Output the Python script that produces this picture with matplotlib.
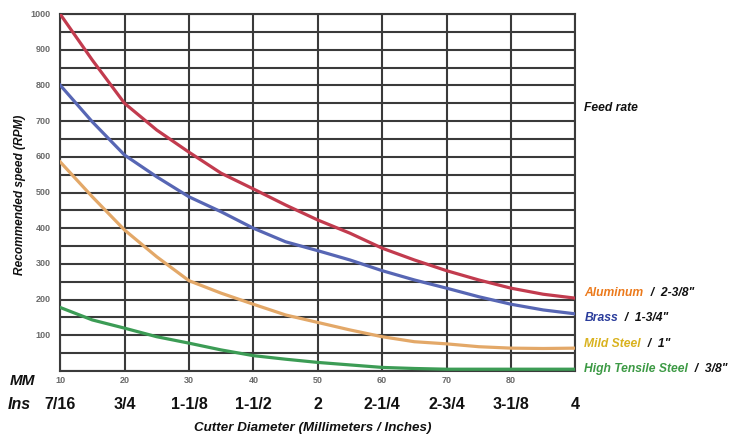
import numpy as np
import matplotlib.pyplot as plt

mm = [10, 15, 20, 25, 30, 35, 40, 45, 50, 55, 60, 65, 70, 75, 80, 85, 90]
aluminum = [1000, 871, 750, 675, 613, 554, 510, 465, 423, 386, 344, 311, 281, 255, 232, 215, 204]
brass = [801, 698, 605, 544, 488, 446, 400, 362, 337, 311, 281, 255, 232, 208, 187, 171, 160]
mild_steel = [586, 488, 395, 320, 253, 218, 187, 157, 136, 115, 96, 82, 76, 68, 64, 63, 64]
high_tensile = [178, 143, 120, 96, 78, 59, 43, 33, 24, 17, 10, 7, 5, 5, 5, 5, 5]

mm_ticks = [10, 20, 30, 40, 50, 60, 70, 80]
ins_pos = [10, 20, 30, 40, 50, 60, 70, 80, 90]
ins_labels = ['7/16', '3/4', '1-1/8', '1-1/2', '2', '2-1/4', '2-3/4', '3-1/8', '4']
y_ticks = [100, 200, 300, 400, 500, 600, 700, 800, 900, 1000]

names = ['Aluminum', 'Brass', 'Mild Steel', 'High Tensile Steel']
feeds = ['2-3/8"', '1-3/4"', '1"', '3/8"']
label_colors = ['#ec7a1c', '#2b3d9c', '#d9b21e', '#3d9a45']

plt.rcParams['font.family'] = ['Liberation Sans', 'DejaVu Sans']

fig = plt.figure(figsize=(7.33, 4.38), dpi=100)
ax = fig.add_axes([0.082, 0.153, 0.703, 0.815])

ax.plot(mm, aluminum, color='#c23b4e', lw=2.3, zorder=3)
ax.plot(mm, brass, color='#5766b4', lw=2.3, zorder=3)
ax.plot(mm, mild_steel, color='#e3a868', lw=2.3, zorder=3)
ax.plot(mm, high_tensile, color='#3c9c55', lw=2.3, zorder=3)

ax.set_xlim(10, 90)
ax.set_ylim(0, 1000)
ax.set_xticks(np.arange(10, 91, 10))
ax.set_yticks(np.arange(0, 1001, 50))
ax.grid(True, color='#3a3a3a', lw=1.5)
ax.set_axisbelow(True)
for s in ax.spines.values():
    s.set_color('#3a3a3a')
    s.set_linewidth(1.5)
ax.tick_params(length=0, labelbottom=False, labelleft=False)

# small grey tick numbers
for v in y_ticks:
    ax.text(8.5, v, str(v), ha='right', va='center', fontsize=6.5,
            fontweight='bold', color='#6a6a6a')
for v in mm_ticks:
    ax.text(v, -28, str(v), ha='center', va='center', fontsize=6.5,
            fontweight='bold', color='#6a6a6a')
ax.text(4.1, -28, 'MM', ha='center', va='center', fontsize=11,
        fontweight='bold', style='italic', color='#111111')
ax.text(3.6, -95, 'Ins', ha='center', va='center', fontsize=11.5,
        fontweight='bold', style='italic', color='#111111')
for p, l in zip(ins_pos, ins_labels):
    ax.text(p, -95, l, ha='center', va='center', fontsize=11.5,
            fontweight='bold', color='#111111')

ax.text(49.3, -160, 'Cutter Diameter (Millimeters / Inches)', ha='center', va='center',
        fontsize=9.6, fontweight='bold', style='italic', color='#111111')
ax.text(3.8, 493, 'Recommended speed (RPM)', rotation=90, ha='center', va='center',
        fontsize=8.6, fontweight='bold', style='italic', color='#111111')

ax.text(91.4, 737, 'Feed rate', ha='left', va='center', fontsize=8.7,
        fontweight='bold', style='italic', color='#111111', clip_on=False)
label_y = [218, 148, 76, 6]
for name, feed, c, yy in zip(names, feeds, label_colors, label_y):
    t = ax.annotate(name, (91.4, yy), ha='left', va='center', fontsize=8.7,
                    fontweight='bold', style='italic', color=c, annotation_clip=False)
    ax.annotate('  /  ' + feed, xy=(1, 0.5), xycoords=t, ha='left', va='center',
                fontsize=8.7, fontweight='bold', style='italic', color='#111111')

fig.savefig('out.png', dpi=100)
